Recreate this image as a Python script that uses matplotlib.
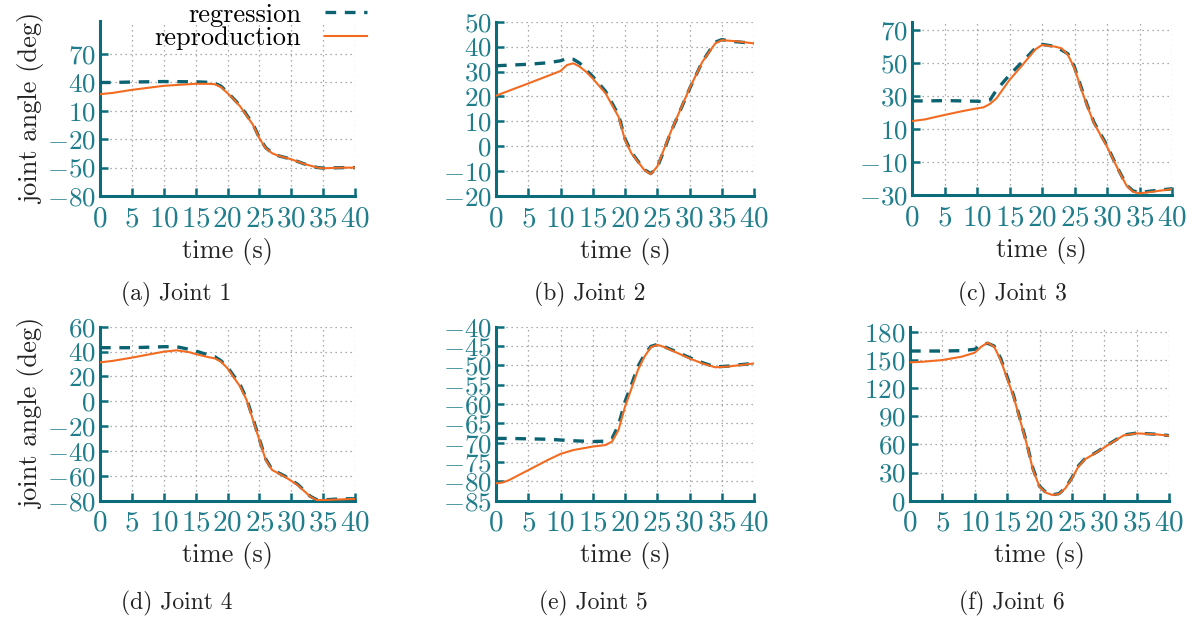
import matplotlib
matplotlib.use("Agg")
import matplotlib.pyplot as plt
from matplotlib.lines import Line2D

plt.rcParams['font.family'] = 'cmr10'
plt.rcParams['mathtext.fontset'] = 'cm'
plt.rcParams['axes.unicode_minus'] = False

# joint angles (time in s, angle in deg)
t1 = [0, 2, 5, 10, 15, 17, 18, 19, 20, 21, 22, 24, 25, 26, 27, 28, 30, 32, 34, 35, 38, 40]
rep1 = [27.6, 29, 32.2, 36.5, 38.6, 38.6, 38.2, 35, 28.7, 22, 14.6, -4.8, -19, -29.5, -34.8, -37.5, -41.2, -46, -49.8, -50.7, -50, -50]
reg1 = [40, 40, 40.5, 41, 40.7, 40.2, 39.3, 36, 29.5, 22.5, 15.5, -4, -18.5, -29, -34.5, -37.5, -41, -46, -49.8, -50.5, -50, -50]

t2 = [0, 5, 8, 10, 11, 12, 13, 14, 15, 17, 19, 20, 21, 22, 23, 24, 25, 26, 27, 28, 30, 32, 34, 35, 37, 40]
rep2 = [20.3, 25.2, 28.2, 30.2, 32.6, 33.3, 31.9, 29.8, 27.2, 21.2, 11.8, 2.5, -2.9, -6.2, -9.6, -11.2, -8.2, -1.5, 5.2, 11.2, 23.2, 33.9, 41.3, 42.6, 42.2, 41.3]
reg2 = [32.3, 32.9, 33.5, 34.3, 35.3, 34.9, 33.3, 30.5, 28, 22, 12.5, 3, -2.5, -6, -9.4, -11, -8.5, -2, 5, 11, 23, 34, 41.8, 42.8, 42, 41.3]

t3 = [0, 2, 5, 8, 10, 11, 12, 13, 15, 17, 19, 20, 22, 23, 24, 25, 26, 27, 28, 30, 31, 32, 33, 34, 35, 37, 40]
rep3 = [14.8, 15.8, 18.5, 21, 22.5, 23.1, 25.2, 28.6, 39.7, 48.8, 58.3, 60.9, 59.9, 58.9, 54.8, 46.8, 34.6, 23.5, 13.4, -0.7, -8.8, -16.9, -24.3, -28, -29, -28, -26.4]
reg3 = [27, 27, 27.2, 27, 26.8, 26.6, 27.6, 33.6, 42.7, 50.8, 59, 61.3, 60, 57.9, 55.5, 47.5, 35.5, 24, 14, 0, -8.5, -16.5, -24, -27.5, -28.5, -27.5, -26.2]

t4 = [0, 2, 5, 10, 12, 14, 15, 17, 18, 19, 20, 22, 23, 24, 25, 26, 27, 29, 31, 33, 34, 35, 38, 40]
rep4 = [31.3, 32.5, 35.1, 39.9, 41, 39.5, 38, 35.5, 34.5, 31.8, 26.5, 11.7, 1, -15.1, -31.2, -47.3, -55.3, -60.7, -67.4, -76.8, -79.5, -79.5, -78.9, -78.6]
reg4 = [43.1, 43.1, 43.1, 43.9, 43.9, 41.8, 40.5, 37.2, 35.9, 32.5, 27.5, 13, 2, -14, -30.5, -46.5, -55, -60.2, -66.8, -76.5, -79.2, -79.4, -78.4, -78.5]

t5 = [0, 1, 2, 5, 8, 10, 12, 15, 17, 18, 19, 20, 21, 22, 23, 24, 25, 26, 28, 30, 32, 34, 36, 38, 40]
rep5 = [-80.5, -80.3, -79.7, -77.1, -74.5, -72.9, -71.9, -71, -70.6, -69.7, -66.7, -60.7, -56, -51.2, -47.8, -45.3, -44.7, -45.2, -46.7, -48.2, -49.5, -50.5, -50.3, -49.9, -49.5]
reg5 = [-68.9, -68.9, -68.9, -69, -69.1, -69.3, -69.5, -69.7, -69.6, -68.9, -65.4, -59.4, -55, -50.3, -47.3, -45.1, -44.6, -45.1, -46.5, -48, -49.3, -50.4, -50.2, -49.8, -49.5]

t6 = [0, 2, 5, 8, 10, 11, 12, 13, 14, 15, 16, 17, 18, 19, 20, 21, 22, 23, 24, 25, 26, 27, 29, 31, 33, 35, 38, 40]
rep6 = [147.3, 148, 149.8, 153.4, 157.6, 164, 168.3, 164, 149.8, 130.3, 110.8, 85.9, 61.1, 32.7, 14.9, 8.5, 6.1, 7.1, 13.2, 23.8, 36.2, 44, 52.2, 61.1, 69.6, 71.7, 70.7, 69.2]
reg6 = [159.4, 159.4, 159.4, 159.8, 161.2, 166.5, 167.6, 164.7, 151.6, 132, 112, 87, 62, 34, 15.5, 8.8, 6.3, 7.5, 13.5, 24.5, 37, 44.5, 52.5, 61.5, 70, 72, 70.8, 69.4]

times = [t1, t2, t3, t4, t5, t6]
reproduction = [rep1, rep2, rep3, rep4, rep5, rep6]
regression = [reg1, reg2, reg3, reg4, reg5, reg6]

y_limits = [(-80, 105), (-20, 50), (-30, 75), (-80, 60), (-85, -40), (0, 185.3)]
y_ticks = [
    [-80, -50, -20, 10, 40, 70],
    [-20, -10, 0, 10, 20, 30, 40, 50],
    [-30, -10, 10, 30, 50, 70],
    [-80, -60, -40, -20, 0, 20, 40, 60],
    [-85, -80, -75, -70, -65, -60, -55, -50, -45, -40],
    [0, 30, 60, 90, 120, 150, 180],
]
x_ticks = [0, 5, 10, 15, 20, 25, 30, 35, 40]
captions = ['(a) Joint 1', '(b) Joint 2', '(c) Joint 3', '(d) Joint 4', '(e) Joint 5', '(f) Joint 6']

# axes boxes in pixels: left, right, top, bottom
boxes = [(100, 355, 21, 196), (496, 754, 21.7, 196), (912, 1172, 21.7, 195),
         (100, 355, 326.7, 500.7), (496, 754, 326.7, 500.7), (910, 1169, 326.7, 500.7)]
caption_pos = [(176, 294), (590, 294), (1012, 294), (177, 603), (593, 603), (1012, 603)]

W, H = 1193, 619
spine_c = '#0b6d7c'
tick_c = '#1f7d8c'
orange = '#f26b21'
reg_c = '#0b6270'

fig = plt.figure(figsize=(W / 100, H / 100), dpi=100)

for i in range(6):
    l, r, top, bot = boxes[i]
    ax = fig.add_axes([l / W, 1 - bot / H, (r - l) / W, (bot - top) / H])
    ax.plot(times[i], regression[i], color=reg_c, lw=2.4, dashes=(3.2, 2.6), zorder=3)
    ax.plot(times[i], reproduction[i], color=orange, lw=1.5, zorder=4)
    ax.set_xlim(0, 40)
    ax.set_ylim(*y_limits[i])
    ax.set_xticks(x_ticks)
    ax.set_xticklabels(['$%d$' % v for v in x_ticks])
    ax.set_yticks(y_ticks[i])
    ax.set_yticklabels(['$%d$' % v for v in y_ticks[i]])
    ax.grid(True, color='#909090', linestyle=(0, (1, 3)), lw=0.9)
    ax.spines['top'].set_visible(False)
    ax.spines['right'].set_visible(False)
    ax.spines['left'].set_color(spine_c)
    ax.spines['bottom'].set_color(spine_c)
    ax.spines['left'].set_linewidth(2.2)
    ax.spines['bottom'].set_linewidth(2.2)
    ax.tick_params(axis='both', direction='in', length=6, width=1.8, color=spine_c,
                   labelcolor=tick_c)
    ax.tick_params(axis='x', labelsize=21, pad=7)
    ax.tick_params(axis='y', labelsize=19.5, pad=3)
    ax.set_xlabel('time (s)', fontsize=19, color='#222222', labelpad=4)
    if i % 3 == 0:
        ax.set_ylabel('joint angle (deg)', fontsize=19, color='#222222', labelpad=1)
    cx, cy = caption_pos[i]
    fig.text(cx / W, 1 - cy / H, captions[i], fontsize=17, color='#222222',
             ha='center', va='center')

handles = [Line2D([], [], color=reg_c, lw=2.4, dashes=(3.2, 2.6)),
           Line2D([], [], color=orange, lw=1.5)]
fig.legend(handles, ['regression', 'reproduction'], loc='upper right',
           bbox_to_anchor=(367 / W, 1 - 3 / H), frameon=False, markerfirst=False,
           fontsize=19, handlelength=1.6, handletextpad=0.9, labelspacing=0.0,
           borderpad=0, borderaxespad=0)

fig.savefig('out.png', dpi=100)
